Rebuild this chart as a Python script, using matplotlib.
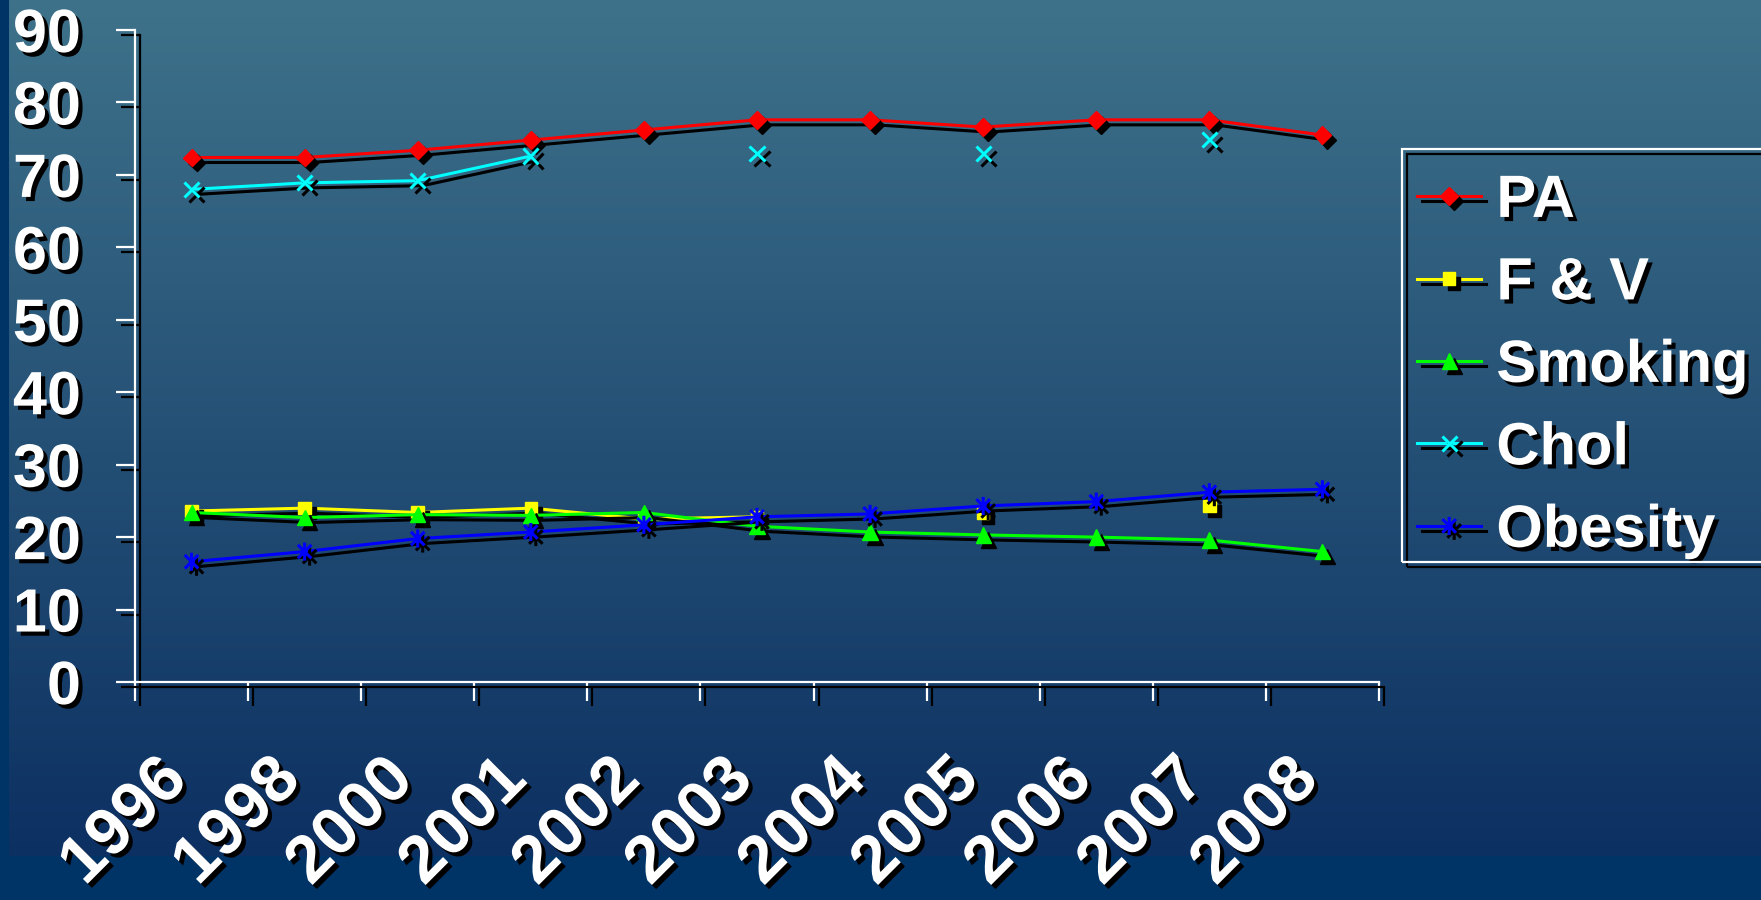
import numpy as np
import matplotlib
matplotlib.use("Agg")
import matplotlib.pyplot as plt
import matplotlib.patheffects as pe
from matplotlib.path import Path
from matplotlib.patches import Rectangle
from matplotlib.transforms import ScaledTranslation

nan = np.nan

# ---- data -------------------------------------------------------------
years = ["1996", "1998", "2000", "2001", "2002", "2003",
         "2004", "2005", "2006", "2007", "2008"]
pa = [72.4, 72.4, 73.4, 74.8, 76.2, 77.6, 77.6, 76.6, 77.6, 77.6, 75.5]
fv = [23.6, 24.0, 23.4, 24.0, 22.5, 22.8, nan, 23.3, nan, 24.3, nan]
smoking = [23.4, 22.7, 23.1, 23.0, 23.4, 21.5, 20.7, 20.3, 20.0, 19.6, 18.0]
chol = [68.0, 68.9, 69.2, 72.6, nan, 73.0, nan, 73.0, nan, 74.9, nan]
obesity = [16.6, 18.0, 19.8, 20.7, 21.7, 22.8, 23.2, 24.3, 24.9, 26.2, 26.6]
yticks = list(range(0, 100, 10))


class DropShadow(pe.AbstractPathEffect):
    """Solid black copy of the path, shifted right and down."""

    def __init__(self, offset=(3.6, -3.6), color=(0.0, 0.0, 0.0)):
        super().__init__(offset)
        self._color = color

    def draw_path(self, renderer, gc, tpath, affine, rgbFace=None):
        gc0 = renderer.new_gc()
        gc0.copy_properties(gc)
        gc0.set_foreground(self._color)
        gc0.set_alpha(1.0)
        face = self._color if rgbFace is not None else None
        renderer.draw_path(gc0, tpath,
                           affine + self._offset_transform(renderer), face)
        gc0.restore()


line_fx = [DropShadow((3.6, -3.6)), pe.Normal()]
text_fx = [DropShadow((3.0, -3.0)), pe.Normal()]

plt.rcParams["font.family"] = ["Liberation Sans", "DejaVu Sans"]
plt.rcParams["font.weight"] = "bold"

W, H = 1761, 900
fig = plt.figure(figsize=(W / 100, H / 100), dpi=100, facecolor="#003366")

# ---- gradient backdrop -----------------------------------------------
bg = fig.add_axes([0, 0, 1, 1], zorder=-10)
bg.axis("off")
top = np.array([62, 114, 138]) / 255.0
bot = np.array([12, 48, 98]) / 255.0
t = np.linspace(0, 1, 512)[:, None, None]
grad = top * (1 - t) + bot * t
bg.imshow(grad, extent=[9 / W, 1, 1 - 856 / H, 1], aspect="auto",
          origin="upper", interpolation="bilinear")
bg.set_xlim(0, 1)
bg.set_ylim(0, 1)

# ---- main axes --------------------------------------------------------
ax = fig.add_axes([135 / W, 1 - 682 / H, (1379 - 135) / W, (682 - 30) / H])
ax.set_facecolor("none")
x = np.arange(len(years))
ax.set_xlim(-0.5, len(years) - 0.5)
ax.set_ylim(0, 90)

star = Path([(0, -1), (0, 1), (-0.75, -0.75), (0.75, 0.75),
             (-0.75, 0.75), (0.75, -0.75)],
            [Path.MOVETO, Path.LINETO, Path.MOVETO, Path.LINETO,
             Path.MOVETO, Path.LINETO])

series = [
    ("PA", pa, "#FF0000", dict(marker="D", ms=9, mfc="#FF0000", mec="#FF0000", mew=1)),
    ("F & V", fv, "#FFFF00", dict(marker="s", ms=9, mfc="#FFFF00", mec="#FFFF00", mew=1)),
    ("Smoking", smoking, "#00FF00", dict(marker="^", ms=11, mfc="#00FF00", mec="#00FF00", mew=1)),
    ("Chol", chol, "#00FFFF", dict(marker="x", ms=11, mec="#00FFFF", mew=2.2)),
    ("Obesity", obesity, "#0000FF", dict(marker=star, ms=13, mfc="none", mec="#0000FF", mew=2.2)),
]
for name, vals, col, mk in series:
    ax.plot(x, vals, color=col, lw=2.2, label=name, path_effects=line_fx,
            solid_joinstyle="miter", **mk)

# axes styling
for side in ("top", "right"):
    ax.spines[side].set_visible(False)
for side in ("left", "bottom"):
    ax.spines[side].set_color("white")
    ax.spines[side].set_linewidth(1.6)
    ax.spines[side].set_path_effects(line_fx)

ax.set_xticks(np.arange(-0.5, len(years), 1.0))
ax.set_xticklabels([])
ax.set_yticks(yticks)
ax.set_yticklabels([str(v) for v in yticks])
ax.tick_params(axis="both", direction="out", length=14, width=1.6,
               color="white")
ax.tick_params(axis="y", pad=25, labelsize=44, labelcolor="white")
for tl in ax.xaxis.get_ticklines() + ax.yaxis.get_ticklines():
    tl.set_path_effects(line_fx)
for lbl in ax.get_yticklabels():
    lbl.set_path_effects(text_fx)

# rotated year labels under the x axis
shift = ScaledTranslation(-36 / 100, -66 / 100, fig.dpi_scale_trans)
for i, yr in enumerate(years):
    ax.text(i, 0, yr, transform=ax.get_xaxis_transform() + shift,
            rotation=45, rotation_mode="anchor", ha="right", va="top",
            fontsize=48, color="white", path_effects=text_fx, clip_on=False)

# legend (entries), with its box drawn as a separate outlined rectangle
leg = ax.legend(loc="upper left", bbox_to_anchor=(1402 / W, 1 - 159 / H),
                bbox_transform=fig.transFigure, fontsize=43, frameon=False,
                borderpad=0.25, handlelength=1.08, handletextpad=0.25,
                labelspacing=0.46, borderaxespad=0, numpoints=1,
                labelcolor="white")
for txt in leg.get_texts():
    txt.set_path_effects(text_fx)

box = Rectangle((1402 / W, 1 - 562 / H), (1775 - 1402) / W, (562 - 149) / H,
                transform=fig.transFigure, facecolor="none",
                edgecolor="white", linewidth=1.6, path_effects=line_fx,
                clip_on=False)
fig.add_artist(box)

fig.savefig("out.png", dpi=100, facecolor=fig.get_facecolor())
